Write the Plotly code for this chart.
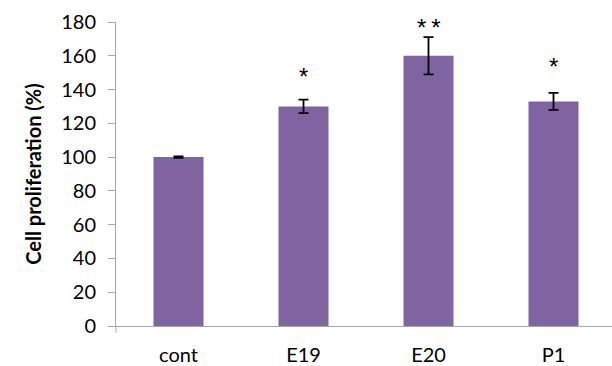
import plotly.graph_objects as go

categories = ["cont", "E19", "E20", "P1"]
values = [100, 130, 160, 133]
errors = [0.4, 4, 11, 5]
stars = ["", "*", "*\u2009*", "*"]
star_y = [None, 148, 176.5, 153.5]

fig = go.Figure()
fig.add_trace(go.Bar(
    x=categories, y=values, width=0.4,
    marker=dict(color="#8064A2", line=dict(width=0)),
    error_y=dict(type="data", array=errors, visible=True, color="#000000", thickness=1.8, width=5),
))

for c, s, sy in zip(categories, stars, star_y):
    if s:
        fig.add_annotation(x=c, y=sy, text=s, showarrow=False,
                           font=dict(family="Liberation Sans", size=24, color="#000000"),
                           yanchor="middle", xanchor="center")

fig.update_layout(
    width=612, height=366,
    margin=dict(l=116, r=0, t=22, b=38),
    paper_bgcolor="white", plot_bgcolor="white",
    showlegend=False,
    font=dict(family="Lato", color="#000000"),
)
fig.update_xaxes(
    range=[-0.5, 3.468], showline=True, linecolor="#A6A6A6", linewidth=1,
    ticks="", showgrid=False, tickfont=dict(size=20, color="#000000"),
    ticklabelstandoff=11,
)
fig.update_yaxes(
    range=[0, 180], dtick=20, showline=True, linecolor="#A6A6A6", linewidth=1,
    ticks="outside", ticklen=7, tickcolor="#A6A6A6", showgrid=False, zeroline=False,
    tickfont=dict(size=20, color="#000000"), ticklabelstandoff=8,
    title=dict(text="<b>Cell proliferation (%)</b>", font=dict(size=20, color="#000000"), standoff=14),
)
fig.add_shape(type="line", xref="paper", yref="paper", x0=0, x1=0, y0=0, y1=-0.022,
              line=dict(color="#A6A6A6", width=1))

fig.write_html("out.html")
